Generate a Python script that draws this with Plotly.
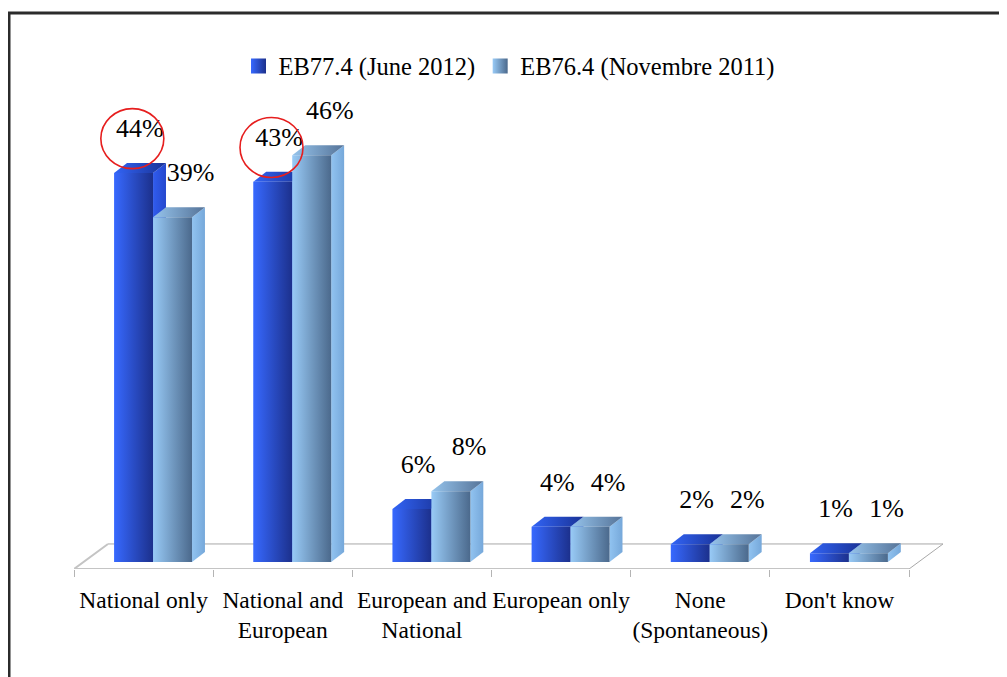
import plotly.graph_objects as go

# ---------------- data ----------------
categories = ["National only", "National and<br>European", "European and<br>National",
              "European only", "None<br>(Spontaneous)", "Don't know"]
series_names = ["EB77.4 (June 2012)", "EB76.4 (Novembre 2011)"]
eb77 = [44, 43, 6, 4, 2, 1]
eb76 = [39, 46, 8, 4, 2, 1]
highlighted = [0, 1]  # EB77.4 labels circled in red

# ---------------- layout geometry ----------------
PAGE = 8  # default body margin of the html page
W, H = 1007 - PAGE, 677 - PAGE
ML, MT = 74 - PAGE, 100 - PAGE
PW, PH = 869, 469
MR, MB = W - ML - PW, H - MT - PH
X_RANGE = [-0.5, 5.744]
Y_RANGE = [-0.792, 52.26]

BAR_W = 0.28      # width of one bar (category units)
SHIFT = 0.068     # depth shift of bar pair relative to floor front
DX, DY = 0.093, 1.13  # 3D depth of bars
FLOOR_BACK, FLOOR_DX = 2.04, 0.244
FONT = "Liberation Serif"

styles = [
    dict(front=["rgb(55,105,255)", "rgb(28,48,140)"],
         side=["rgb(48,92,238)", "rgb(38,72,205)"],
         top=["rgb(50,100,245)", "rgb(25,50,150)"],
         legend=["rgb(55,105,255)", "rgb(28,48,140)"],
         label_dx=0.045),
    dict(front=["rgb(152,202,246)", "rgb(75,105,140)"],
         side=["rgb(145,195,240)", "rgb(118,168,218)"],
         top=["rgb(150,196,236)", "rgb(85,115,152)"],
         legend=["rgb(152,202,246)", "rgb(75,105,140)"],
         label_dx=0.13),
]

fig = go.Figure()

# floor outline
n = len(categories)
fx0, fx1 = -0.5, n - 0.5
fy0 = Y_RANGE[0]
fig.add_trace(go.Scatter(
    x=[fx0 + FLOOR_DX, fx1 + FLOOR_DX, fx1],
    y=[FLOOR_BACK, FLOOR_BACK, fy0],
    mode="lines", line=dict(color="#a8a8a8", width=1),
    hoverinfo="skip", showlegend=False, cliponaxis=False))
fig.add_trace(go.Scatter(
    x=[fx0 + FLOOR_DX, fx0, fx1],
    y=[FLOOR_BACK, fy0, fy0],
    mode="lines", line=dict(color="#c4c4c4", width=2),
    hoverinfo="skip", showlegend=False, cliponaxis=False))


def face(xs, ys, colors):
    fig.add_trace(go.Scatter(
        x=xs, y=ys, mode="lines", fill="toself",
        line=dict(width=0),
        fillgradient=dict(type="horizontal",
                          colorscale=[[0, colors[0]], [1, colors[1]]]),
        hoverinfo="skip", showlegend=False))


all_series = [eb77, eb76]
for i in range(n):
    for s, vals in enumerate(all_series):
        st = styles[s]
        v = vals[i]
        xl = i + SHIFT - BAR_W + s * BAR_W
        xr = xl + BAR_W
        face([xr, xr + DX, xr + DX, xr, xr], [0, DY, v + DY, v, 0], st["side"])
        face([xl, xr, xr + DX, xl + DX, xl], [v, v, v + DY, v + DY, v], st["top"])
        face([xl, xr, xr, xl, xl], [0, 0, v, v, 0], st["front"])

# value labels
label_pos = []
for s, vals in enumerate(all_series):
    st = styles[s]
    xs = [i + SHIFT - BAR_W / 2 + s * BAR_W + st["label_dx"] for i in range(n)]
    ys = [v + 4.8 for v in vals]
    label_pos.append(list(zip(xs, ys)))
    fig.add_trace(go.Scatter(
        x=xs, y=ys, mode="text", text=[f"{v}%" for v in vals],
        textfont=dict(family=FONT, size=26, color="black"),
        hoverinfo="skip", showlegend=False, cliponaxis=False))

# legend entries
for s, name in enumerate(series_names):
    st = styles[s]
    fig.add_trace(go.Scatter(
        x=[None], y=[None], mode="markers", name=name,
        marker=dict(symbol="square", size=15, color=st["legend"][0],
                    gradient=dict(type="horizontal", color=st["legend"][1]),
                    line=dict(width=0))))

shapes = []
# red circles around highlighted labels
for i in highlighted:
    lx, ly = label_pos[0][i]
    shapes.append(dict(type="circle", xref="x", yref="y",
                       xsizemode="pixel", ysizemode="pixel",
                       xanchor=lx, yanchor=ly,
                       x0=-39, x1=24, y0=-38, y1=22,
                       line=dict(color="rgb(230,30,30)", width=1.6)))

# outer frame (page pixels: left 9, top 13, running off the right/bottom)
shapes.append(dict(type="rect", xref="paper", yref="paper",
                   x0=(9 - PAGE - ML) / PW, x1=(W + 20 - ML) / PW,
                   y0=(MT + PH - (H + 20)) / PH, y1=(MT + PH - (13 - PAGE)) / PH,
                   line=dict(color="#2b2b2b", width=3)))

fig.update_layout(
    width=W, height=H,
    margin=dict(l=ML, r=MR, t=MT, b=MB, pad=0),
    paper_bgcolor="white", plot_bgcolor="white",
    shapes=shapes,
    showlegend=True,
    legend=dict(orientation="h", x=(509 - PAGE - ML) / PW, xanchor="center",
                y=(MT + PH - (66 - PAGE)) / PH, yanchor="middle",
                font=dict(family=FONT, size=24.5, color="black"),
                bgcolor="rgba(0,0,0,0)"),
    xaxis=dict(range=X_RANGE, showgrid=False, zeroline=False, showline=False,
               tickmode="array", tickvals=list(range(n)), ticktext=categories,
               ticks="", ticklabelstandoff=14,
               tickfont=dict(family=FONT, size=23.5, color="black"),
               minor=dict(tickmode="array",
                          tickvals=[k - 0.5 for k in range(n + 1)],
                          ticks="outside", ticklen=7, tickwidth=1,
                          tickcolor="#b4b4b4", showgrid=False),
               fixedrange=True),
    yaxis=dict(range=Y_RANGE, visible=False, fixedrange=True),
)

fig.write_html("out.html")
